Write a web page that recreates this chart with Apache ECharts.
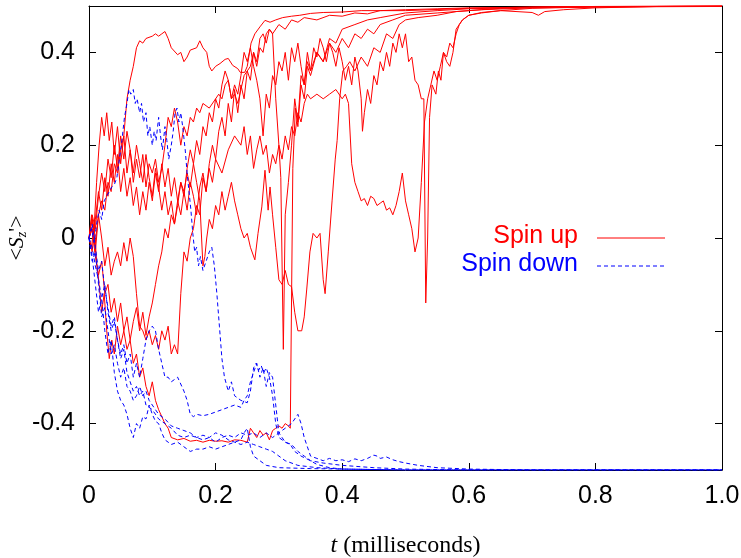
<!DOCTYPE html>
<html>
<head>
<meta charset="utf-8">
<script src="https://cdn.jsdelivr.net/npm/echarts@6/dist/echarts.min.js"></script>
<style>html,body{margin:0;padding:0;background:#fff}#c{width:741px;height:558px}</style>
</head>
<body>
<div id="c"></div>
<script>
// ---- data: [t (ms), <S_z'>] ----
var xTicks = [0, 0.2, 0.4, 0.6, 0.8, 1.0];
var yTicks = [-0.4, -0.2, 0, 0.2, 0.4];

var up1 = [[0,0],[0.005,0.02],[0.01,-0.01],[0.015,0.05],[0.02,0.08],[0.025,0.06],[0.03,0.12],[0.035,0.10],[0.04,0.16],[0.045,0.14],[0.05,0.19],[0.055,0.22],[0.06,0.30],[0.065,0.34],[0.07,0.37],[0.075,0.41],[0.08,0.425],[0.085,0.42],[0.09,0.43],[0.1,0.435],[0.105,0.44],[0.11,0.435],[0.115,0.44],[0.12,0.445],[0.125,0.43],[0.13,0.41],[0.14,0.395],[0.145,0.40],[0.15,0.38],[0.155,0.39],[0.16,0.405],[0.17,0.41],[0.175,0.425],[0.18,0.41],[0.186,0.40],[0.19,0.37],[0.194,0.36],[0.2,0.37],[0.207,0.376],[0.215,0.385],[0.22,0.387],[0.227,0.372],[0.235,0.365],[0.239,0.357],[0.246,0.357],[0.25,0.37],[0.256,0.42],[0.262,0.44],[0.27,0.455],[0.278,0.469],[0.286,0.465],[0.295,0.47],[0.306,0.475],[0.32,0.478],[0.333,0.48],[0.35,0.484],[0.37,0.486],[0.4,0.487],[0.43,0.49],[0.46,0.49],[0.5,0.492],[0.55,0.494],[0.6,0.496],[0.7,0.497],[0.8,0.498],[1.0,0.499]];

var up2 = [[0,0],[0.004,-0.02],[0.008,0.03],[0.012,-0.05],[0.016,-0.1],[0.02,-0.16],[0.024,-0.12],[0.028,-0.2],[0.032,-0.26],[0.036,-0.22],[0.04,-0.25],[0.045,-0.19],[0.05,-0.23],[0.055,-0.2],[0.06,-0.24],[0.065,-0.22],[0.07,-0.27],[0.075,-0.25],[0.08,-0.3],[0.085,-0.28],[0.09,-0.32],[0.095,-0.34],[0.1,-0.31],[0.105,-0.35],[0.11,-0.37],[0.115,-0.385],[0.12,-0.4],[0.125,-0.41],[0.13,-0.43],[0.14,-0.435],[0.15,-0.432],[0.16,-0.438],[0.17,-0.436],[0.18,-0.44],[0.19,-0.436],[0.2,-0.438],[0.21,-0.437],[0.22,-0.44],[0.23,-0.435],[0.24,-0.436],[0.25,-0.44],[0.255,-0.41],[0.26,-0.42],[0.265,-0.43],[0.27,-0.415],[0.275,-0.425],[0.28,-0.42],[0.285,-0.435],[0.29,-0.415],[0.295,-0.41],[0.3,-0.405],[0.305,-0.41],[0.31,-0.40],[0.315,-0.405],[0.318,-0.41],[0.322,0.15],[0.326,0.28],[0.33,0.24],[0.335,0.33],[0.34,0.3],[0.345,0.37],[0.35,0.35],[0.36,0.4],[0.37,0.38],[0.38,0.43],[0.39,0.42],[0.4,0.45],[0.42,0.46],[0.44,0.47],[0.46,0.475],[0.5,0.485],[0.55,0.49],[0.6,0.494],[0.7,0.497],[0.8,0.499],[1.0,0.5]];

var up3 = [[0,0],[0.005,0.04],[0.01,-0.03],[0.015,0.05],[0.02,0.0],[0.025,-0.06],[0.03,-0.02],[0.035,-0.08],[0.04,-0.05],[0.045,-0.03],[0.05,-0.06],[0.055,-0.01],[0.06,-0.05],[0.065,0.0],[0.07,-0.04],[0.075,-0.12],[0.08,-0.19],[0.085,-0.2],[0.09,-0.22],[0.095,-0.2],[0.1,-0.23],[0.105,-0.21],[0.11,-0.24],[0.115,-0.2],[0.12,-0.22],[0.125,-0.19],[0.13,-0.25],[0.135,-0.23],[0.14,-0.25],[0.145,-0.12],[0.15,-0.03],[0.155,-0.05],[0.16,0.0],[0.165,0.02],[0.17,0.07],[0.175,0.05],[0.18,0.13],[0.185,0.1],[0.19,0.16],[0.195,0.2],[0.2,0.17],[0.205,0.23],[0.21,0.26],[0.215,0.22],[0.22,0.29],[0.225,0.25],[0.23,0.32],[0.235,0.27],[0.24,0.33],[0.245,0.3],[0.25,0.36],[0.255,0.34],[0.26,0.4],[0.265,0.38],[0.27,0.43],[0.275,0.44],[0.28,0.42],[0.285,0.45],[0.29,0.44],[0.3,0.46],[0.31,0.45],[0.32,0.47],[0.33,0.465],[0.34,0.475],[0.36,0.47],[0.38,0.48],[0.4,0.478],[0.42,0.485],[0.44,0.483],[0.46,0.49],[0.5,0.49],[0.6,0.495],[0.7,0.498],[1.0,0.5]];

var up4 = [[0,0],[0.004,0.05],[0.008,0.02],[0.012,0.12],[0.016,0.2],[0.02,0.26],[0.024,0.22],[0.028,0.27],[0.032,0.21],[0.036,0.25],[0.04,0.18],[0.045,0.24],[0.05,0.16],[0.055,0.22],[0.06,0.14],[0.065,0.19],[0.07,0.12],[0.075,0.17],[0.08,0.13],[0.085,0.18],[0.09,0.11],[0.095,0.16],[0.1,0.14],[0.105,0.17],[0.11,0.12],[0.115,0.15],[0.12,0.2],[0.125,0.26],[0.13,0.24],[0.135,0.28],[0.14,0.25],[0.145,0.2],[0.15,0.24],[0.155,0.22],[0.16,0.26],[0.165,0.25],[0.17,0.28],[0.175,0.27],[0.18,0.29],[0.19,0.28],[0.2,0.3],[0.205,0.31],[0.21,0.3],[0.215,0.33],[0.22,0.34],[0.225,0.3],[0.23,0.31],[0.235,0.29],[0.24,0.32],[0.245,0.35],[0.25,0.36],[0.255,0.37],[0.26,0.4],[0.265,0.37],[0.27,0.41],[0.275,0.40],[0.28,0.44],[0.285,0.45],[0.29,0.44],[0.295,0.3],[0.3,0.2],[0.303,0.13],[0.307,-0.24],[0.31,0.05],[0.315,0.12],[0.32,0.2],[0.325,0.3],[0.33,0.25],[0.335,0.35],[0.34,0.33],[0.345,0.38],[0.35,0.36],[0.36,0.4],[0.37,0.38],[0.38,0.42],[0.39,0.4],[0.4,0.43],[0.41,0.41],[0.42,0.44],[0.43,0.43],[0.44,0.45],[0.45,0.44],[0.46,0.46],[0.48,0.47],[0.5,0.48],[0.55,0.485],[0.6,0.49],[0.65,0.495],[0.7,0.497],[0.8,0.499],[1.0,0.5]];

var up5 = [[0,0],[0.005,-0.03],[0.01,0.04],[0.015,0.1],[0.02,0.06],[0.025,0.13],[0.03,0.09],[0.035,0.16],[0.04,0.12],[0.045,0.18],[0.05,0.1],[0.055,0.15],[0.06,0.09],[0.065,0.13],[0.07,0.07],[0.075,0.11],[0.08,0.05],[0.085,0.1],[0.09,0.06],[0.095,0.12],[0.1,0.08],[0.105,0.14],[0.11,0.1],[0.115,0.16],[0.12,0.11],[0.125,0.15],[0.13,0.09],[0.135,0.13],[0.14,0.08],[0.145,0.12],[0.15,0.1],[0.155,0.14],[0.16,0.11],[0.165,0.16],[0.17,0.12],[0.175,0.08],[0.18,-0.06],[0.183,-0.04],[0.186,0.0],[0.19,0.04],[0.195,0.02],[0.2,0.07],[0.205,0.05],[0.21,0.1],[0.215,0.06],[0.22,0.09],[0.225,0.12],[0.23,0.08],[0.235,0.05],[0.24,0.02],[0.245,0.0],[0.25,0.01],[0.255,-0.02],[0.262,-0.047],[0.267,0.01],[0.273,0.067],[0.278,0.146],[0.283,0.06],[0.286,0.11],[0.29,0.05],[0.295,-0.02],[0.3,-0.09],[0.305,-0.1],[0.31,-0.07],[0.315,-0.1],[0.32,-0.105],[0.325,-0.16],[0.33,-0.2],[0.336,-0.2],[0.34,-0.17],[0.344,-0.11],[0.349,-0.03],[0.354,0.01],[0.36,0.0],[0.365,0.01],[0.37,-0.09],[0.373,-0.12],[0.378,-0.03],[0.384,0.08],[0.389,0.17],[0.392,0.21],[0.396,0.3],[0.401,0.36],[0.407,0.37],[0.412,0.38],[0.42,0.36],[0.43,0.39],[0.44,0.37],[0.45,0.41],[0.46,0.4],[0.47,0.44],[0.48,0.43],[0.49,0.46],[0.5,0.47],[0.52,0.475],[0.55,0.48],[0.58,0.488],[0.62,0.492],[0.7,0.496],[0.8,0.498],[1.0,0.5]];

var up6 = [[0,0],[0.005,0.02],[0.01,-0.04],[0.015,-0.08],[0.02,-0.05],[0.025,-0.12],[0.03,-0.1],[0.035,-0.16],[0.04,-0.13],[0.045,-0.18],[0.05,-0.14],[0.055,-0.2],[0.06,-0.17],[0.065,-0.22],[0.07,-0.18],[0.075,-0.15],[0.08,-0.2],[0.085,-0.16],[0.09,-0.21],[0.095,-0.17],[0.1,-0.14],[0.105,-0.1],[0.11,-0.06],[0.115,-0.03],[0.12,0.02],[0.125,0.0],[0.13,0.05],[0.135,0.03],[0.14,0.08],[0.145,0.05],[0.15,0.1],[0.155,0.06],[0.16,0.12],[0.165,0.09],[0.17,0.05],[0.175,0.11],[0.18,0.14],[0.185,0.1],[0.19,0.15],[0.195,0.12],[0.2,0.17],[0.21,0.14],[0.22,0.19],[0.23,0.22],[0.24,0.2],[0.245,0.24],[0.25,0.18],[0.255,0.22],[0.26,0.15],[0.265,0.19],[0.27,0.22],[0.275,0.18],[0.28,0.2],[0.285,0.14],[0.29,0.18],[0.295,0.16],[0.3,0.2],[0.305,0.17],[0.31,0.22],[0.315,0.19],[0.32,0.24],[0.325,0.22],[0.33,0.27],[0.335,0.25],[0.34,0.29],[0.345,0.31],[0.35,0.3],[0.36,0.31],[0.37,0.3],[0.38,0.31],[0.39,0.32],[0.4,0.3],[0.405,0.31],[0.41,0.29],[0.415,0.16],[0.42,0.12],[0.425,0.1],[0.43,0.08],[0.435,0.085],[0.44,0.07],[0.445,0.09],[0.45,0.085],[0.455,0.07],[0.46,0.075],[0.465,0.08],[0.47,0.06],[0.475,0.065],[0.48,0.05],[0.485,0.07],[0.49,0.1],[0.495,0.14],[0.5,0.08],[0.505,0.05],[0.51,0.02],[0.515,-0.03],[0.52,0.0],[0.525,0.12],[0.53,0.25],[0.535,0.3],[0.54,0.33],[0.545,0.36],[0.55,0.34],[0.555,0.37],[0.56,0.4],[0.565,0.39],[0.57,0.42],[0.575,0.41],[0.58,0.44],[0.585,0.46],[0.59,0.47],[0.6,0.48],[0.62,0.486],[0.65,0.49],[0.7,0.486],[0.71,0.48],[0.72,0.488],[0.75,0.492],[0.8,0.496],[0.9,0.499],[1.0,0.5]];

var up7 = [[0,0],[0.005,0.05],[0.01,0.02],[0.015,0.09],[0.02,0.14],[0.025,0.1],[0.03,0.17],[0.035,0.13],[0.04,0.2],[0.045,0.15],[0.05,0.22],[0.055,0.17],[0.06,0.23],[0.065,0.19],[0.07,0.14],[0.075,0.2],[0.08,0.16],[0.085,0.12],[0.09,0.18],[0.095,0.13],[0.1,0.09],[0.105,0.15],[0.11,0.11],[0.115,0.06],[0.12,0.1],[0.125,0.05],[0.13,0.08],[0.135,0.03],[0.14,0.07],[0.145,0.12],[0.15,0.09],[0.155,0.15],[0.16,0.19],[0.165,0.16],[0.17,0.21],[0.175,0.18],[0.18,0.24],[0.185,0.22],[0.19,0.27],[0.195,0.25],[0.2,0.3],[0.205,0.28],[0.21,0.33],[0.215,0.36],[0.22,0.34],[0.225,0.3],[0.23,0.33],[0.235,0.31],[0.24,0.35],[0.245,0.4],[0.25,0.38],[0.255,0.41],[0.26,0.37],[0.265,0.34],[0.27,0.3],[0.275,0.22],[0.28,0.31],[0.285,0.28],[0.29,0.35],[0.295,0.33],[0.3,0.38],[0.305,0.36],[0.31,0.4],[0.315,0.34],[0.32,0.41],[0.325,0.38],[0.33,0.42],[0.335,0.37],[0.34,0.33],[0.345,0.4],[0.35,0.36],[0.355,0.41],[0.36,0.39],[0.365,0.43],[0.37,0.41],[0.375,0.38],[0.38,0.42],[0.385,0.4],[0.39,0.37],[0.395,0.41],[0.4,0.38],[0.405,0.34],[0.41,0.37],[0.415,0.33],[0.42,0.39],[0.425,0.36],[0.43,0.3],[0.432,0.23],[0.435,0.27],[0.44,0.32],[0.445,0.29],[0.45,0.35],[0.455,0.33],[0.46,0.38],[0.465,0.36],[0.47,0.4],[0.475,0.37],[0.48,0.42],[0.485,0.4],[0.49,0.44],[0.495,0.41],[0.5,0.44],[0.505,0.38],[0.51,0.39],[0.515,0.34],[0.52,0.33],[0.525,0.3],[0.529,0.3],[0.532,-0.14],[0.535,0.0],[0.538,0.26],[0.542,0.33],[0.548,0.31],[0.552,0.36],[0.556,0.34],[0.56,0.4],[0.565,0.38],[0.57,0.37],[0.575,0.4],[0.58,0.45],[0.585,0.46],[0.59,0.47],[0.6,0.48],[0.62,0.485],[0.65,0.49],[0.7,0.495],[0.8,0.498],[1.0,0.5]];

var down1 = [[0,0],[0.004,0.02],[0.008,-0.01],[0.012,0.03],[0.016,0.06],[0.02,0.04],[0.024,0.08],[0.028,0.09],[0.032,0.1],[0.036,0.11],[0.04,0.115],[0.044,0.13],[0.048,0.17],[0.052,0.21],[0.056,0.26],[0.06,0.29],[0.063,0.32],[0.066,0.31],[0.07,0.32],[0.073,0.29],[0.076,0.3],[0.08,0.27],[0.083,0.29],[0.086,0.25],[0.09,0.27],[0.093,0.22],[0.096,0.24],[0.1,0.2],[0.103,0.23],[0.106,0.21],[0.11,0.26],[0.113,0.22],[0.116,0.19],[0.12,0.24],[0.123,0.21],[0.126,0.17],[0.13,0.2],[0.133,0.23],[0.136,0.27],[0.139,0.28],[0.142,0.25],[0.145,0.27],[0.148,0.24],[0.152,0.19],[0.155,0.14],[0.158,0.1],[0.161,0.06],[0.164,0.01],[0.167,-0.03],[0.17,-0.02],[0.173,-0.06],[0.176,-0.04],[0.18,-0.07],[0.185,-0.05],[0.19,-0.03],[0.194,-0.02],[0.198,-0.06],[0.202,-0.12],[0.206,-0.19],[0.21,-0.26],[0.214,-0.3],[0.22,-0.33],[0.225,-0.31],[0.23,-0.34],[0.24,-0.35],[0.25,-0.355],[0.255,-0.33],[0.26,-0.28],[0.264,-0.27],[0.268,-0.285],[0.272,-0.275],[0.276,-0.29],[0.28,-0.28],[0.285,-0.3],[0.29,-0.34],[0.295,-0.4],[0.3,-0.43],[0.31,-0.44],[0.318,-0.445],[0.325,-0.46],[0.335,-0.47],[0.35,-0.48],[0.36,-0.488],[0.38,-0.495],[0.4,-0.498],[0.5,-0.5],[1.0,-0.5]];

var down2 = [[0,0],[0.005,-0.04],[0.01,-0.1],[0.015,-0.16],[0.02,-0.13],[0.025,-0.2],[0.03,-0.25],[0.035,-0.22],[0.04,-0.29],[0.045,-0.33],[0.05,-0.35],[0.055,-0.36],[0.06,-0.38],[0.065,-0.41],[0.07,-0.43],[0.075,-0.4],[0.08,-0.41],[0.085,-0.385],[0.09,-0.39],[0.095,-0.36],[0.1,-0.38],[0.105,-0.395],[0.11,-0.4],[0.115,-0.42],[0.12,-0.435],[0.125,-0.44],[0.13,-0.445],[0.14,-0.44],[0.15,-0.45],[0.16,-0.46],[0.17,-0.455],[0.18,-0.455],[0.19,-0.45],[0.2,-0.455],[0.21,-0.45],[0.22,-0.445],[0.23,-0.44],[0.24,-0.435],[0.245,-0.42],[0.25,-0.41],[0.255,-0.45],[0.26,-0.47],[0.27,-0.48],[0.28,-0.49],[0.3,-0.495],[0.35,-0.497],[0.4,-0.498],[0.5,-0.5],[1.0,-0.5]];

var down3 = [[0,0],[0.005,0.03],[0.01,-0.02],[0.015,-0.07],[0.02,-0.05],[0.025,-0.11],[0.03,-0.15],[0.035,-0.19],[0.04,-0.17],[0.045,-0.22],[0.05,-0.26],[0.055,-0.24],[0.06,-0.29],[0.065,-0.31],[0.07,-0.33],[0.075,-0.32],[0.08,-0.34],[0.085,-0.33],[0.09,-0.36],[0.1,-0.37],[0.11,-0.39],[0.12,-0.4],[0.13,-0.41],[0.14,-0.425],[0.15,-0.43],[0.16,-0.425],[0.17,-0.43],[0.18,-0.435],[0.19,-0.43],[0.2,-0.44],[0.21,-0.43],[0.22,-0.425],[0.23,-0.43],[0.24,-0.42],[0.25,-0.425],[0.26,-0.42],[0.27,-0.43],[0.28,-0.42],[0.29,-0.43],[0.3,-0.42],[0.31,-0.41],[0.32,-0.4],[0.325,-0.39],[0.33,-0.38],[0.335,-0.4],[0.34,-0.43],[0.345,-0.45],[0.35,-0.47],[0.36,-0.475],[0.37,-0.48],[0.38,-0.475],[0.39,-0.48],[0.4,-0.478],[0.41,-0.482],[0.42,-0.476],[0.43,-0.48],[0.44,-0.475],[0.45,-0.468],[0.455,-0.47],[0.46,-0.475],[0.47,-0.472],[0.48,-0.478],[0.49,-0.482],[0.5,-0.485],[0.52,-0.49],[0.55,-0.495],[0.6,-0.498],[0.7,-0.5],[1.0,-0.5]];

var down4 = [[0,0],[0.005,-0.02],[0.01,-0.06],[0.015,-0.09],[0.02,-0.13],[0.025,-0.1],[0.03,-0.16],[0.035,-0.2],[0.04,-0.18],[0.045,-0.22],[0.05,-0.25],[0.055,-0.23],[0.06,-0.27],[0.065,-0.25],[0.07,-0.3],[0.075,-0.27],[0.08,-0.3],[0.085,-0.26],[0.09,-0.22],[0.095,-0.2],[0.1,-0.19],[0.105,-0.2],[0.11,-0.24],[0.115,-0.27],[0.12,-0.3],[0.125,-0.3],[0.13,-0.31],[0.14,-0.3],[0.15,-0.33],[0.155,-0.35],[0.16,-0.38],[0.165,-0.385],[0.17,-0.38],[0.18,-0.383],[0.19,-0.38],[0.2,-0.375],[0.21,-0.37],[0.22,-0.365],[0.23,-0.36],[0.24,-0.365],[0.245,-0.35],[0.25,-0.34],[0.255,-0.31],[0.26,-0.29],[0.265,-0.27],[0.27,-0.3],[0.275,-0.28],[0.28,-0.32],[0.285,-0.29],[0.29,-0.3],[0.295,-0.36],[0.3,-0.42],[0.31,-0.44],[0.32,-0.445],[0.33,-0.46],[0.34,-0.47],[0.35,-0.48],[0.37,-0.485],[0.4,-0.49],[0.45,-0.495],[0.5,-0.498],[0.6,-0.5],[1.0,-0.5]];

var down5 = [[0,0],[0.005,-0.05],[0.01,-0.03],[0.015,-0.1],[0.02,-0.17],[0.025,-0.15],[0.03,-0.2],[0.035,-0.25],[0.04,-0.23],[0.045,-0.27],[0.05,-0.3],[0.055,-0.28],[0.06,-0.32],[0.065,-0.33],[0.07,-0.35],[0.075,-0.34],[0.08,-0.32],[0.085,-0.34],[0.09,-0.33],[0.095,-0.35],[0.1,-0.36],[0.11,-0.38],[0.12,-0.39],[0.13,-0.405],[0.14,-0.41],[0.15,-0.415],[0.16,-0.42],[0.17,-0.43],[0.18,-0.425],[0.19,-0.43],[0.2,-0.42],[0.21,-0.425],[0.22,-0.435],[0.23,-0.44],[0.24,-0.445],[0.25,-0.44],[0.26,-0.445],[0.27,-0.45],[0.28,-0.455],[0.29,-0.46],[0.3,-0.47],[0.31,-0.48],[0.33,-0.49],[0.36,-0.495],[0.4,-0.498],[0.5,-0.5],[1.0,-0.5]];

var upSeries = [up1, up2, up3, up4, up5, up6, up7];
var downSeries = [down1, down2, down3, down4, down5];

var chart = echarts.init(document.getElementById('c'), null, {renderer: 'canvas'});
var SANS = "'Liberation Sans', Arial, Helvetica, sans-serif";
var SERIF = "'Liberation Serif', 'Times New Roman', serif";
var fmt = function (v) { return Math.abs(v) < 1e-9 ? '0' : v.toFixed(1); };

var series = [];
upSeries.forEach(function (d) {
  series.push({type: 'line', name: 'Spin up', data: d, showSymbol: false, symbol: 'none',
    lineStyle: {color: '#ff0000', width: 1}, z: 2, silent: true});
});
downSeries.forEach(function (d) {
  series.push({type: 'line', name: 'Spin down', data: d, showSymbol: false, symbol: 'none',
    lineStyle: {color: '#0000ff', width: 1, type: [4, 3]}, z: 3, silent: true});
});

var axisLine = {show: true, onZero: false, lineStyle: {color: '#000', width: 1}};
chart.setOption({
  animation: false,
  backgroundColor: '#fff',
  grid: {left: 89, right: 19, top: 6, bottom: 88, containLabel: false, outerBoundsMode: 'none'},
  xAxis: [{
    type: 'value', min: 0, max: 1, interval: 0.2, position: 'bottom',
    axisLine: axisLine, splitLine: {show: false},
    axisTick: {inside: true, length: 7, lineStyle: {color: '#000'}},
    axisLabel: {formatter: fmt, fontFamily: SANS, fontSize: 25, color: '#000', margin: 14},
    name: '{i|t} (milliseconds)', nameLocation: 'middle', nameGap: 64,
    nameTextStyle: {fontFamily: SERIF, fontSize: 24, color: '#000',
      rich: {i: {fontFamily: SERIF, fontStyle: 'italic', fontSize: 24, color: '#000'}}}
  }, {
    type: 'value', min: 0, max: 1, interval: 0.2, position: 'top',
    axisLine: axisLine, splitLine: {show: false},
    axisTick: {inside: true, length: 7, lineStyle: {color: '#000'}},
    axisLabel: {show: false}
  }],
  yAxis: [{
    type: 'value', min: -0.5, max: 0.5, position: 'left',
    axisLine: axisLine, splitLine: {show: false},
    axisTick: {inside: true, length: 7, customValues: yTicks, lineStyle: {color: '#000'}},
    axisLabel: {customValues: yTicks, formatter: fmt, fontFamily: SANS, fontSize: 25, color: '#000', margin: 14},
    name: '<{it|S}{sub|z}\'>', nameLocation: 'middle', nameGap: 60, nameRotate: 90, nameMoveOverlap: false,
    nameTextStyle: {fontFamily: SERIF, fontSize: 22, color: '#000',
      rich: {it: {fontFamily: SERIF, fontStyle: 'italic', fontSize: 22, color: '#000'},
             sub: {fontFamily: SERIF, fontStyle: 'italic', fontSize: 14, color: '#000', padding: [10, 0, 0, 0]}}}
  }, {
    type: 'value', min: -0.5, max: 0.5, position: 'right',
    axisLine: axisLine, splitLine: {show: false},
    axisTick: {inside: true, length: 7, customValues: yTicks, lineStyle: {color: '#000'}},
    axisLabel: {show: false}
  }],
  graphic: [
    {type: 'text', right: 741 - 578, top: 224, style: {text: 'Spin up', fill: '#ff0000', font: '25px ' + SANS, textAlign: 'right'}},
    {type: 'line', shape: {x1: 597, y1: 238, x2: 665, y2: 238}, style: {stroke: '#ff0000', lineWidth: 1}},
    {type: 'text', right: 741 - 578, top: 252, style: {text: 'Spin down', fill: '#0000ff', font: '25px ' + SANS, textAlign: 'right'}},
    {type: 'line', shape: {x1: 597, y1: 266, x2: 665, y2: 266}, style: {stroke: '#0000ff', lineWidth: 1, lineDash: [4, 3]}}
  ],
  series: series
});
</script>
</body>
</html>
